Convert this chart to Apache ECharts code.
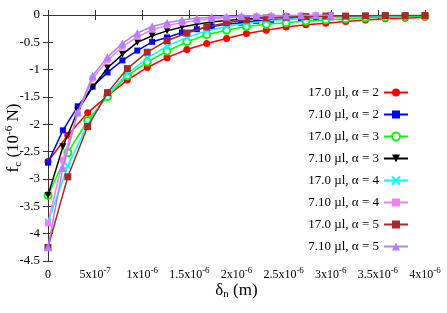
<!DOCTYPE html>
<html><head><meta charset="utf-8">
<script src="https://cdn.jsdelivr.net/npm/echarts@6/dist/echarts.min.js"></script>
<style>html,body{margin:0;padding:0;background:#fff}#c{width:447px;height:313px}</style>
</head><body><div id="c"></div>
<script>
// x positions in micrometres (axis shown in metres via tick labels)
const x17 = [0, 0.2105, 0.4211, 0.6316, 0.8421, 1.0526, 1.2632, 1.4737, 1.6842, 1.8947, 2.1053, 2.3158, 2.5263, 2.7368, 2.9474, 3.1579, 3.3684, 3.5789, 3.7895, 4.0];
const x71 = [0, 0.1579, 0.3158, 0.4737, 0.6316, 0.7895, 0.9474, 1.1053, 1.2632, 1.4211, 1.5789, 1.7368, 1.8947, 2.0526, 2.2105, 2.3684, 2.5263, 2.6842, 2.8421, 3.0];

const red17a2    = [-2.68,-2.2,-1.79,-1.48,-1.19,-0.96,-0.78,-0.63,-0.52,-0.43,-0.34,-0.28,-0.22,-0.18,-0.15,-0.12,-0.09,-0.07,-0.06,-0.04];
const blue71a2   = [-2.70,-2.11,-1.67,-1.31,-1.05,-0.83,-0.65,-0.49,-0.41,-0.32,-0.26,-0.21,-0.17,-0.14,-0.11,-0.09,-0.075,-0.06,-0.05,-0.04];
const green17a3  = [-3.3,-2.52,-1.93,-1.49,-1.11,-0.86,-0.66,-0.49,-0.36,-0.28,-0.21,-0.17,-0.14,-0.11,-0.09,-0.07,-0.05,-0.04,-0.03,-0.02];
const black71a3  = [-3.30,-2.41,-1.75,-1.32,-0.97,-0.72,-0.50,-0.38,-0.29,-0.22,-0.17,-0.13,-0.10,-0.08,-0.06,-0.05,-0.04,-0.03,-0.025,-0.02];
const cyan17a4   = [-3.78,-2.76,-2.0,-1.45,-1.07,-0.79,-0.57,-0.41,-0.29,-0.21,-0.15,-0.11,-0.08,-0.06,-0.045,-0.035,-0.025,-0.02,-0.015,-0.01];
const pink71a4   = [-3.81,-2.65,-1.80,-1.16,-0.83,-0.58,-0.40,-0.27,-0.19,-0.14,-0.10,-0.07,-0.05,-0.035,-0.025,-0.02,-0.015,-0.01,-0.01,-0.005];
const brown17a5  = [-4.25,-2.96,-2.04,-1.42,-0.98,-0.68,-0.47,-0.33,-0.22,-0.14,-0.09,-0.055,-0.04,-0.03,-0.02,-0.02,-0.015,-0.01,-0.01,-0.01];
const purple71a5 = [-4.25,-2.80,-1.78,-1.11,-0.77,-0.52,-0.33,-0.21,-0.14,-0.09,-0.06,-0.04,-0.03,-0.02,-0.015,-0.01,-0.01,-0.005,-0.005,0];

const seriesNames = ['17.0 µl, α = 2','7.10 µl, α = 2','17.0 µl, α = 3','7.10 µl, α = 3','17.0 µl, α = 4','7.10 µl, α = 4','17.0 µl, α = 5','7.10 µl, α = 5'];
const xTickValues = [0,0.5,1,1.5,2,2.5,3,3.5,4];
const xTickLabels = ['{b|0}','{b|5x10}{s|-7}','{b|1x10}{s|-6}','{b|1.5x10}{s|-6}','{b|2x10}{s|-6}','{b|2.5x10}{s|-6}','{b|3x10}{s|-6}','{b|3.5x10}{s|-6}','{b|4x10}{s|-6}'];
const yTickLabels = ['-4.5','-4','-3.5','-3','-2.5','-2','-1.5','-1','-0.5','0'];

const FONT = '"Liberation Serif","DejaVu Serif",serif';
const pairs = (xs, ys) => xs.map((x, i) => [x, ys[i]]);

const styles = [
  {c:'#ff0000', sym:'circle', size:7},
  {c:'#0000ff', sym:'rect', size:6},
  {c:'#00ff00', sym:'emptyCircle', size:7},
  {c:'#000000', sym:'triangle', size:7, rot:180},
  {c:'#00ffff', sym:'path://M0,0L10,10M10,0L0,10', size:6, stroke:true},
  {c:'#ee82ee', sym:'rect', size:6},
  {c:'#a52a2a', sym:'rect', size:7},
  {c:'#b380ff', sym:'triangle', size:8}
];
const datasets = [
  pairs(x17, red17a2), pairs(x71, blue71a2), pairs(x17, green17a3), pairs(x71, black71a3),
  pairs(x17, cyan17a4), pairs(x71, pink71a4), pairs(x17, brown17a5), pairs(x71, purple71a5)
];

const series = datasets.map((d, k) => {
  const s = styles[k];
  return {
    name: seriesNames[k], type: 'line', data: d,
    symbol: s.sym, symbolSize: s.size, symbolRotate: s.rot || 0,
    showAllSymbol: true, animation: false,
    lineStyle: {color: s.c, width: 1.5},
    itemStyle: s.stroke ? {color: s.c, borderColor: s.c, borderWidth: 1.6}
             : (s.sym === 'emptyCircle' ? {color: s.c, borderColor: s.c, borderWidth: 1.5} : {color: s.c}),
    z: 2 + k
  };
});

const chart = echarts.init(document.getElementById('c'), null, {renderer: 'canvas'});
const axisCol = '#333';
chart.setOption({
  animation: false,
  backgroundColor: '#fff',
  grid: {left: 48, right: 22, top: 15, bottom: 52, outerBoundsMode: 'none', containLabel: false},
  legend: {
    orient: 'vertical', right: 33, top: 81, align: 'right',
    itemWidth: 24, itemHeight: 10, itemGap: 9,
    textStyle: {fontFamily: FONT, fontSize: 13, color: '#000'},
    data: seriesNames
  },
  xAxis: [{
    type: 'value', min: 0, max: 4, interval: 0.5,
    axisLine: {lineStyle: {color: axisCol, width: 1}},
    axisTick: {inside: true, length: 5, lineStyle: {color: axisCol}},
    splitLine: {show: false},
    axisLabel: {
      margin: 5, color: '#000', fontFamily: FONT, fontSize: 12,
      formatter: (v) => { const i = xTickValues.indexOf(Math.round(v*2)/2); return i >= 0 ? xTickLabels[i] : ''; },
      rich: {
        b: {fontSize: 12, verticalAlign: 'bottom', lineHeight: 15, fontFamily: FONT, color: '#000'},
        s: {fontSize: 9, verticalAlign: 'top', lineHeight: 6, fontFamily: FONT, color: '#000'}
      }
    },
    name: '{b|δ}{sub|n}{b| (m)}', nameLocation: 'middle', nameGap: 21, nameMoveOverlap: false,
    nameTextStyle: {fontFamily: FONT, fontSize: 17, color: '#000',
      rich: {
        b: {fontSize: 17, verticalAlign: 'top', lineHeight: 18, fontFamily: FONT, color:'#000'},
        sub: {fontSize: 11, verticalAlign: 'bottom', lineHeight: 10, fontFamily: FONT, color:'#000'}
      }}
  }, {
    type: 'value', min: 0, max: 4, interval: 0.5, position: 'top',
    axisLine: {lineStyle: {color: axisCol, width: 1}},
    axisTick: {inside: true, length: 5, lineStyle: {color: axisCol}},
    axisLabel: {show: false}, splitLine: {show: false}
  }],
  yAxis: [{
    type: 'value', min: -4.5, max: 0, interval: 0.5,
    axisLine: {show: true, lineStyle: {color: '#000', width: 1}},
    axisTick: {show: true, inside: true, length: 5, lineStyle: {color: axisCol}},
    splitLine: {show: false},
    axisLabel: {margin: 8, color: '#000', fontFamily: FONT, fontSize: 13,
      formatter: (v) => { const i = Math.round((v + 4.5) * 2); return yTickLabels[i] !== undefined ? yTickLabels[i] : ''; }},
    name: '{b|f}{sub|c}{b| (10}{sup|-6}{b| N)}', nameLocation: 'middle', nameGap: 24, nameRotate: 90, nameMoveOverlap: false,
    nameTextStyle: {fontFamily: FONT, fontSize: 17, color: '#000',
      rich: {
        b: {fontSize: 17, verticalAlign: 'middle', lineHeight: 20, fontFamily: FONT, color:'#000'},
        sub: {fontSize: 11, verticalAlign: 'bottom', lineHeight: 8, fontFamily: FONT, color:'#000'},
        sup: {fontSize: 11, verticalAlign: 'top', lineHeight: 8, fontFamily: FONT, color:'#000'}
      }}
  }, {
    type: 'value', min: -4.5, max: 0, interval: 0.5, position: 'right',
    axisLine: {show: true, lineStyle: {color: axisCol, width: 1}},
    axisTick: {show: true, inside: true, length: 5, lineStyle: {color: axisCol}},
    axisLabel: {show: false}, splitLine: {show: false}
  }],
  series: series
});
</script>
</body></html>
